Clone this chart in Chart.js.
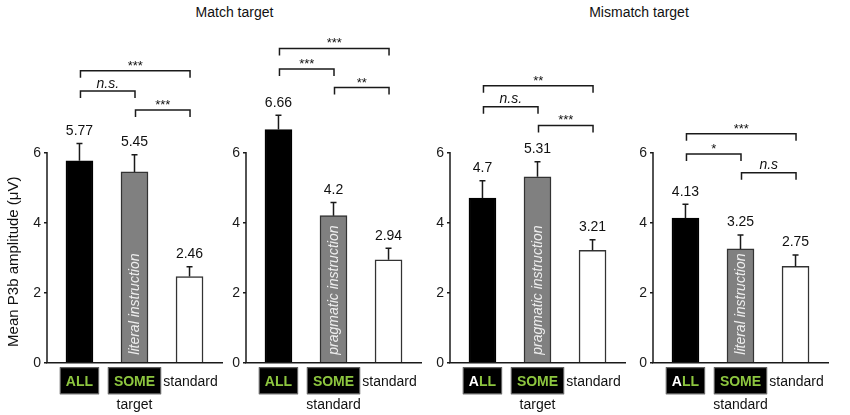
<!DOCTYPE html>
<html>
<head>
<meta charset="utf-8">
<script src="https://cdn.jsdelivr.net/npm/chart.js@4"></script>
<style>
  html, body { margin: 0; padding: 0; background: #fff; }
  body { width: 850px; height: 415px; position: relative; overflow: hidden;
         font-family: "Liberation Sans", Arial, sans-serif; }
  .panel { position: absolute; top: 0; width: 240px; height: 415px; }
  .title { position: absolute; top: 4px; font-size: 14px; line-height: 16px; color: #111;
           transform: translateX(-50%); white-space: nowrap; }
</style>
</head>
<body>
<div class="title" style="left:234.5px" id="t0"></div>
<div class="title" style="left:639px" id="t1"></div>
<div class="panel" style="left:0px"><canvas id="c0"></canvas></div>
<div class="panel" style="left:199px"><canvas id="c1"></canvas></div>
<div class="panel" style="left:403px"><canvas id="c2"></canvas></div>
<div class="panel" style="left:606px"><canvas id="c3"></canvas></div>
<script>
// ---------- data ----------
const panelTitles = ['Match target', 'Mismatch target'];
const categories = ['ALL', 'SOME', 'standard'];
const groupLabels = ['target', 'standard', 'target', 'standard'];
const instructionLabels = ['literal instruction', 'pragmatic instruction', 'pragmatic instruction', 'literal instruction'];
const yAxisLabel = 'Mean P3b amplitude (\u03bcV)';
const yTicks = [0, 2, 4, 6];

const meanP3b = [
  [5.77, 5.45, 2.46],
  [6.66, 4.2, 2.94],
  [4.7, 5.31, 3.21],
  [4.13, 3.25, 2.75]
];
const semP3b = [
  [0.49, 0.49, 0.28],
  [0.41, 0.38, 0.33],
  [0.50, 0.43, 0.30],
  [0.40, 0.40, 0.33]
];
const bracketPairs = [[0, 2], [0, 1], [1, 2]];
const bracketLevels = [
  [8.34, 7.76, 7.22],
  [8.98, 8.39, 7.86],
  [7.91, 7.31, 6.78],
  [6.54, 5.96, 5.43]
];
const bracketLabels = [
  ['***', 'n.s.', '***'],
  ['***', '***', '**'],
  ['**', 'n.s.', '***'],
  ['***', '*', 'n.s']
];
const whiteInitialA = [false, false, true, true];

// ---------- style ----------
const FONT = '"Liberation Sans", Arial, sans-serif';
const INK = '#1a1a1a';
const GREEN = '#8dc63f';
const barFill = ['#000000', '#808080', '#ffffff'];
const barEdge = ['#000000', '#333333', '#333333'];

document.getElementById('t0').textContent = panelTitles[0];
document.getElementById('t1').textContent = panelTitles[1];

function panelPlugin(p) {
  return {
    id: 'panelDecor' + p,
    afterDraw(chart) {
      const ctx = chart.ctx, ca = chart.chartArea, ys = chart.scales.y;
      const meta = chart.getDatasetMeta(0);
      const cx = i => meta.data[i].x;
      const y0 = ys.getPixelForValue(0);
      ctx.save();
      ctx.strokeStyle = INK;
      ctx.lineWidth = 1.5;
      // y axis line (0 .. 6)
      ctx.beginPath();
      ctx.moveTo(ca.left, y0);
      ctx.lineTo(ca.left, ys.getPixelForValue(yTicks[yTicks.length - 1]) - 0.75);
      ctx.stroke();

      // error bars + value labels
      meanP3b[p].forEach((v, i) => {
        const el = meta.data[i];
        const top = ys.getPixelForValue(v + semP3b[p][i]);
        ctx.strokeStyle = INK; ctx.lineWidth = 1.5;
        ctx.beginPath();
        ctx.moveTo(el.x, el.y);
        ctx.lineTo(el.x, top);
        ctx.moveTo(el.x - 3, top);
        ctx.lineTo(el.x + 3, top);
        ctx.stroke();
        ctx.fillStyle = '#111';
        ctx.font = '14px ' + FONT;
        ctx.textAlign = 'center';
        ctx.textBaseline = 'alphabetic';
        ctx.fillText(String(v), el.x, top - 8.5);
      });

      // instruction text inside SOME bar
      ctx.save();
      ctx.translate(cx(1) + 0.5, y0 - 8);
      ctx.rotate(-Math.PI / 2);
      ctx.fillStyle = '#eeeeee';
      ctx.font = 'italic 14px ' + FONT;
      ctx.textAlign = 'left';
      ctx.textBaseline = 'middle';
      ctx.fillText(instructionLabels[p], 0, 0);
      ctx.restore();

      // significance brackets
      bracketPairs.forEach((pr, k) => {
        const yb = ys.getPixelForValue(bracketLevels[p][k]);
        const x1 = cx(pr[0]) + 1, x2 = cx(pr[1]) + 0.5;
        ctx.strokeStyle = INK; ctx.lineWidth = 1.5;
        ctx.beginPath();
        ctx.moveTo(x1, yb + 7);
        ctx.lineTo(x1, yb);
        ctx.lineTo(x2, yb);
        ctx.lineTo(x2, yb + 7);
        ctx.stroke();
        const lab = bracketLabels[p][k];
        ctx.fillStyle = '#111';
        ctx.textAlign = 'center';
        ctx.textBaseline = 'alphabetic';
        if (lab.indexOf('*') >= 0) {
          ctx.font = '13px ' + FONT;
          ctx.fillText(lab, (x1 + x2) / 2, yb - 1);
        } else {
          ctx.font = 'italic 14px ' + FONT;
          ctx.fillText(lab, (x1 + x2) / 2, yb - 3.5);
        }
      });

      // category labels
      const boxTop = y0 + 4.5, boxH = 27, midY = boxTop + boxH / 2;
      categories.forEach((c, i) => {
        const x = cx(i);
        if (i < 2) {
          ctx.font = 'bold 14px ' + FONT;
          const tw = ctx.measureText(c).width;
          const w = tw + 12;
          ctx.fillStyle = '#000';
          ctx.fillRect(x - w / 2, boxTop, w, boxH);
          ctx.strokeStyle = '#6a6a6a'; ctx.lineWidth = 1;
          ctx.strokeRect(x - w / 2 + 0.5, boxTop + 0.5, w - 1, boxH - 1);
          ctx.textBaseline = 'middle';
          if (i === 0 && whiteInitialA[p]) {
            const first = c.charAt(0), rest = c.slice(1);
            const wf = ctx.measureText(first).width;
            ctx.textAlign = 'left';
            ctx.fillStyle = '#ffffff';
            ctx.fillText(first, x - tw / 2, midY + 1);
            ctx.fillStyle = GREEN;
            ctx.fillText(rest, x - tw / 2 + wf, midY + 1);
          } else {
            ctx.textAlign = 'center';
            ctx.fillStyle = GREEN;
            ctx.fillText(c, x, midY + 1);
          }
        } else {
          ctx.font = '14px ' + FONT;
          ctx.fillStyle = '#111';
          ctx.textAlign = 'center';
          ctx.textBaseline = 'middle';
          ctx.fillText(c, x + 1, midY + 1);
        }
      });

      // group label
      ctx.font = '14px ' + FONT;
      ctx.fillStyle = '#111';
      ctx.textAlign = 'center';
      ctx.textBaseline = 'middle';
      ctx.fillText(groupLabels[p], cx(1), y0 + 42);

      // y axis title (first panel only)
      if (p === 0) {
        ctx.save();
        const ym = (y0 + ys.getPixelForValue(yTicks[yTicks.length - 1])) / 2 + 4;
        ctx.translate(14, ym);
        ctx.rotate(-Math.PI / 2);
        ctx.font = '15px ' + FONT;
        ctx.fillStyle = '#111';
        ctx.textAlign = 'center';
        ctx.textBaseline = 'middle';
        ctx.fillText(yAxisLabel, 0, 0);
        ctx.restore();
      }
      ctx.restore();
    }
  };
}

function makeChart(p) {
  const ctx = document.getElementById('c' + p);
  return new Chart(ctx, {
    type: 'bar',
    data: {
      datasets: [{
        data: meanP3b[p].map((v, i) => ({ x: i + 1, y: v })),
        backgroundColor: barFill,
        borderColor: barEdge,
        borderWidth: 1.5,
        barThickness: 27
      }]
    },
    options: {
      responsive: true,
      maintainAspectRatio: false,
      animation: false,
      events: [],
      layout: { padding: { left: 17, right: 18, top: 12.7, bottom: 52.3 } },
      plugins: { legend: { display: false }, tooltip: { enabled: false } },
      scales: {
        x: {
          type: 'linear',
          min: 0.41, max: 3.59,
          bounds: 'data',
          offset: false,
          ticks: { display: false },
          grid: { display: false, offset: false },
          border: { display: true, color: INK, width: 1.5 },
          afterFit: s => { s.height = 0; }
        },
        y: {
          type: 'linear',
          min: 0, max: 10,
          bounds: 'data',
          afterBuildTicks: s => { s.ticks = yTicks.map(v => ({ value: v })); },
          afterFit: s => { s.width = 30; },
          ticks: { color: INK, padding: 3, font: { size: 14, family: FONT } },
          grid: { display: true, drawOnChartArea: false, drawTicks: true, tickLength: 3, color: INK, lineWidth: 1.5 },
          border: { display: false }
        }
      }
    },
    plugins: [panelPlugin(p)]
  });
}

[0, 1, 2, 3].forEach(makeChart);
</script>
</body>
</html>
